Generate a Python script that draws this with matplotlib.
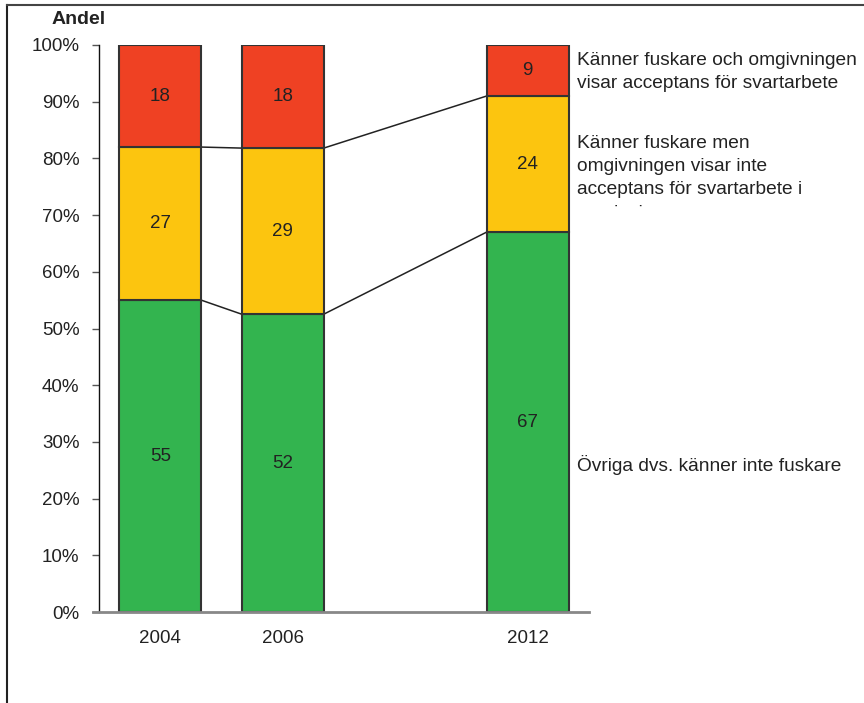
import matplotlib.pyplot as plt
import numpy as np
from matplotlib.lines import Line2D
from matplotlib.transforms import Bbox

plt.rcParams['font.family'] = ['Liberation Sans', 'DejaVu Sans']

years = ['2004', '2006', '', '2012']
ovriga = [55, 52, None, 67]
kanner_ej_accept = [27, 29, None, 24]
kanner_accept = [18, 18, None, 9]

series_labels = [
    'Övriga dvs. känner inte fuskare',
    'Känner fuskare men\nomgivningen visar inte\nacceptans för svartarbete i\nomgivningen',
    'Känner fuskare och omgivningen\nvisar acceptans för svartarbete',
]
colors = ['#33b44f', '#fcc50f', '#ef4123']

fig = plt.figure(figsize=(8.64, 7.03), dpi=100)
ax = fig.add_axes([0.1146, 0.1294, 0.567, 0.8066])

x = np.arange(len(years))
width = 0.67
idx = [i for i in range(len(years)) if ovriga[i] is not None]

# normalise to 100% like an Excel 100% stacked column chart
raw = np.array([[ovriga[i], kanner_ej_accept[i], kanner_accept[i]] for i in idx], dtype=float)
pct = raw / raw.sum(axis=1, keepdims=True) * 100
bottoms = np.zeros(len(idx))
tops = []
for s in range(3):
    ax.bar(x[idx], pct[:, s], width, bottom=bottoms, color=colors[s],
           edgecolor='#333333', linewidth=1.5, zorder=3)
    for j, i in enumerate(idx):
        ax.text(x[i], bottoms[j] + pct[j, s] / 2, f'{int(raw[j, s])}',
                ha='center', va='center', fontsize=13.5, color='#222222', zorder=4)
    bottoms = bottoms + pct[:, s]
    tops.append(bottoms.copy())

# series lines between bars
for s in range(2):
    for j in range(len(idx) - 1):
        ax.plot([x[idx[j]] + width / 2, x[idx[j + 1]] - width / 2],
                [tops[s][j], tops[s][j + 1]], color='#222222', lw=1.1, zorder=2)

ax.set_xlim(-0.5, 3.5)
ax.set_ylim(0, 100)
ax.set_yticks(np.arange(0, 101, 10))
ax.set_yticklabels([f'{v}%' for v in range(0, 101, 10)], fontsize=13.5, color='#222222')
ax.set_xticks([x[i] for i in idx])
ax.set_xticklabels([years[i] for i in idx], fontsize=13.5, color='#222222')
ax.tick_params(axis='y', length=5, width=1, color='#555555', pad=9)
ax.tick_params(axis='x', length=0, pad=13)
for side in ['top', 'right']:
    ax.spines[side].set_visible(False)
ax.spines['left'].set_color('#111111')
ax.spines['left'].set_linewidth(1)
ax.spines['bottom'].set_visible(False)
ax.axhline(0, xmin=-0.012, xmax=1.0, color='#888888', lw=2, clip_on=False, zorder=5)

fig.text(0.06, 0.972, 'Andel', fontsize=14, fontweight='bold', color='#222222', va='center')

# labels on the right (the middle text box cuts off its last line)
fig.text(0.668, 0.926, series_labels[2], fontsize=13.8, va='top', color='#222222', linespacing=1.48)
mid = fig.text(0.668, 0.808, series_labels[1], fontsize=13.8, va='top', color='#222222', linespacing=1.48)
mid.set_clip_box(Bbox.from_extents(560, 703 - 207, 864, 703 - 100))
mid.set_clip_on(True)
fig.text(0.668, 0.339, series_labels[0], fontsize=13.8, va='center', color='#222222')

# frame lines (left and top only)
fig.add_artist(Line2D([0.008, 0.008], [0, 0.993], color='#222222', lw=1.5))
fig.add_artist(Line2D([0.008, 1.0], [0.993, 0.993], color='#444444', lw=1.5))

fig.savefig('out.png', dpi=100)
